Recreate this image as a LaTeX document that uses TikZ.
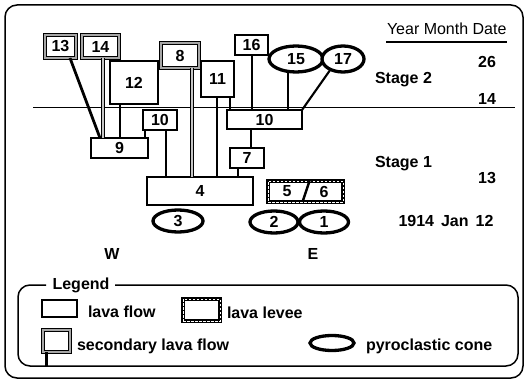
\documentclass[tikz,border=0pt]{standalone}
\usepackage{fontspec}
\setmainfont{Liberation Sans}
\usetikzlibrary{shapes.geometric}
\begin{document}
\begin{tikzpicture}[x=1pt,y=-1pt,
  lbl/.style={font=\fontsize{16}{18}\selectfont\bfseries, inner sep=0, outer sep=0},
  reg/.style={font=\fontsize{16}{18}\selectfont, inner sep=0, outer sep=0},
  sz/.style 2 args={minimum width=#1, minimum height=#2},
  flow/.style={lbl, rectangle, draw, line width=1.7, fill=white},
  secbox/.style={lbl, rectangle, draw, line width=1.4, double=gray!70, double distance=1.5, fill=white},
  levee/.style={lbl, rectangle, draw, line width=4, fill=white, postaction={draw=white, line width=0.6, dash pattern=on 2.5pt off 1.5pt}},
  cone/.style={lbl, ellipse, draw, line width=3.3, fill=white},
  conn/.style={line width=2.1},
  secline/.style={line width=1.1, double=gray!45, double distance=1.6},
  frame/.style={line width=1.5}
]
\useasboundingbox (0,0) rectangle (527,385);
% frame
\draw[frame, rounded corners=12] (5,5) rectangle (523,378);
\draw[line width=0.9] (33,107.5) -- (515,107.5);
\draw[line width=1.8] (386,42) -- (507,42);

% labels
\node[reg, anchor=base west] (tymd) at (387,35) {Year Month Date};
\node[lbl, anchor=base] (t26) at (487,68) {26};
\node[lbl, anchor=base west] (ts2) at (375,84) {Stage 2};
\node[lbl, anchor=base] (t14) at (487,105) {14};
\node[lbl, anchor=base west] (ts1) at (375,167) {Stage 1};
\node[lbl, anchor=base] (t13) at (487,183) {13};
\node[lbl, anchor=base] (tdate) at (446,226) {1914\hspace{7pt}Jan\hspace{7pt}12};
\node[lbl, anchor=base] (tw) at (112,259) {W};
\node[lbl, anchor=base] (te) at (313,259) {E};

% units
\node[secbox, sz={31}{23}] (n13) at (60.5,46.5) {13};
\node[secbox, sz={37}{23}] (n14) at (100.5,46.5) {14};
\node[secbox, sz={38}{25}] (n8) at (180,55.5) {8};
\node[flow, sz={48}{43}] (n12) at (134,82.5) {12};
\node[flow, sz={33}{36}] (n11) at (217.5,79) {11};
\node[flow, sz={33}{20}] (n16) at (251.5,45) {16};
\node[cone, sz={54}{26}] (c15) at (296,59) {15};
\node[cone, sz={42}{26}] (c17) at (343,59) {17};
\node[flow, sz={75}{19}] (n10b) at (264.5,119.5) {10};
\node[flow, sz={34}{20}] (n10a) at (160,120) {10};
\node[flow, sz={57}{20}] (n9) at (119.5,148) {9};
\node[flow, sz={34}{20}] (n7) at (247,158) {7};
\node[flow, sz={106}{28}] (n4) at (200,191) {4};
\node[cone, sz={50}{22}] (c3) at (178,221) {3};
\node[cone, sz={48}{22}] (c2) at (274,222) {2};
\node[cone, sz={49}{22}] (c1) at (324,222) {1};
\node[levee, sz={75}{21}] (n56) at (305.5,191.5) {};
\node[lbl] (n5) at (287,191.5) {5};
\node[lbl] (n6) at (324,191.5) {6};
\draw[line width=2.4] ([xshift=-3]n56.south) -- ([xshift=4]n56.north);

% connectors
\draw[line width=2.8] (70,0 |- n13.south) -- (100,0 |- n9.north);
\draw[secline] (103,0 |- n14.south) -- (103,0 |- n9.north);
\draw[conn] (120,0 |- n12.south) -- (120,0 |- n9.north);
\draw[conn] (145,0 |- n10a.south) -- (145,0 |- n9.north);
\draw[conn] (166,0 |- n10a.south) -- (166,0 |- n4.north);
\draw[secline] (192,0 |- n8.south) -- (192,0 |- n4.north);
\draw[conn] (217,0 |- n11.south) -- (217,0 |- n4.north);
\draw[conn] (238,0 |- n7.south) -- (238,0 |- n4.north);
\draw[conn] (230,0 |- n11.south) -- (230,0 |- n10b.north);
\draw[conn] (252,0 |- n16.south) -- (252,0 |- n10b.north);
\draw[conn] (288,0 |- c15.south) -- (288,0 |- n10b.north);
\draw[conn] (c17.220) -- (n10b.north east);
\draw[conn] (251,0 |- n10b.south) -- (251,0 |- n7.north);

% legend
\draw[frame, rounded corners=12] (46,285) -- (18,285) -- (18,366) -- (518,366) -- (518,285) -- (115,285);
\node[lbl, anchor=base] (tleg) at (81,289) {Legend};
\node[flow, sz={35}{17}] (lf) at (59.5,308.5) {};
\node[lbl, anchor=base west] (tlf) at (88,317) {lava flow};
\node[levee, sz={37}{22}] (lv) at (201.5,310) {};
\node[lbl, anchor=base west] (tlv) at (227,318) {lava levee};
\node[secbox, sz={27}{22}] (ls) at (56.5,341) {};
\coordinate (lsend) at (46,367);
\draw[line width=3] (46,0 |- ls.south) -- (lsend);
\node[lbl, anchor=base west] (tls) at (77,350) {secondary lava flow};
\node[cone, sz={44}{15}] (lc) at (332,343) {};
\node[lbl, anchor=base west] (tlc) at (366,350) {pyroclastic cone};
\end{tikzpicture}
\end{document}
